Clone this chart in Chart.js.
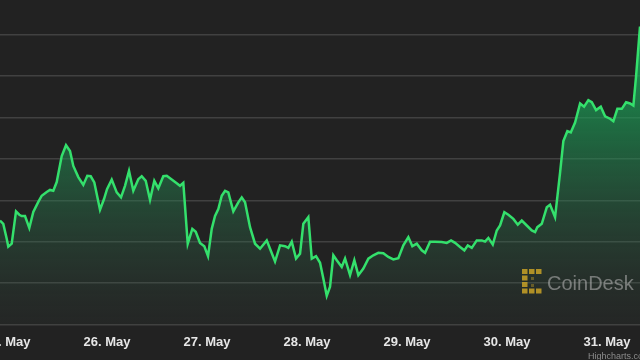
<!DOCTYPE html>
<html>
<head>
<meta charset="utf-8">
<script src="https://cdn.jsdelivr.net/npm/chart.js@4.4.0/dist/chart.umd.min.js"></script>
<style>
    html, body { margin: 0; padding: 0; background: #222222; }
    #wrap { width: 640px; height: 360px; }
</style>
</head>
<body>
<div id="wrap"><canvas id="precioChart" width="640" height="360"></canvas></div>
<script>
// horas desde el 25 de mayo 00:00
const horas = [
    -1.68, -0.89, -0.07, 0.31, 1.13, 2.16, 2.95, 3.53, 4.32, 5.35,
    6.31, 7.51, 8.33, 9.53, 10.32, 11.11, 11.93, 13.13, 14.16, 15.12,
    15.91, 17.11, 18.31, 19.27, 20.09, 20.95, 22.32, 23.28, 24.0, 25.13,
    26.33, 27.36, 28.32, 29.28, 30.31, 31.51, 32.33, 33.29, 34.32, 35.35,
    36.31, 37.51, 38.33, 39.53, 40.73, 41.52, 42.31, 43.37, 44.47, 45.29,
    46.32, 47.35, 48.24, 49.13, 49.92, 50.71, 51.53, 52.32, 53.11, 54.31,
    55.51, 56.33, 57.12, 58.32, 59.52, 60.72, 62.33, 63.12, 64.32, 65.52,
    66.72, 67.51, 68.33, 69.36, 70.32, 71.11, 72.31, 73.13, 74.16, 75.12,
    75.91, 76.73, 77.52, 78.31, 79.13, 80.33, 81.12, 82.32, 83.35, 84.31,
    85.51, 86.71, 87.91, 89.11, 90.31, 91.51, 92.71, 93.91, 95.11, 96.31,
    97.27, 98.33, 99.53, 100.32, 101.52, 102.72, 104.33, 105.53, 106.56, 107.52,
    108.72, 109.75, 110.57, 111.53, 112.73, 113.93, 114.72, 115.51, 116.57, 117.53,
    118.32, 119.35, 120.31, 121.51, 122.57, 123.53, 124.73, 125.93, 126.72, 127.27,
    128.33, 129.53, 130.32, 131.52, 132.72, 133.51, 134.47, 135.29, 136.32, 137.52,
    138.48, 139.51, 140.33, 141.36, 142.49, 143.52, 144.72, 145.51, 146.47, 147.53,
    148.56, 149.52, 150.31, 150.96, 151.9
];
const precios = [
    9551, 9543, 9507, 9488, 9495, 9573, 9565, 9562, 9562, 9533,
    9572, 9596, 9611, 9620, 9625, 9623, 9644, 9707, 9733, 9719,
    9683, 9656, 9637, 9659, 9658, 9643, 9577, 9603, 9627, 9650,
    9619, 9607, 9635, 9671, 9623, 9651, 9658, 9647, 9601, 9647,
    9629, 9658, 9659, 9650, 9641, 9635, 9642, 9495, 9531, 9524,
    9497, 9489, 9465, 9531, 9562, 9579, 9611, 9623, 9619, 9573,
    9595, 9607, 9595, 9535, 9495, 9483, 9503, 9483, 9452, 9491,
    9489, 9485, 9500, 9459, 9471, 9543, 9559, 9459, 9465, 9449,
    9411, 9369, 9391, 9467, 9455, 9439, 9459, 9419, 9455, 9419,
    9435, 9459, 9467, 9473, 9472, 9463, 9457, 9460, 9491, 9511,
    9489, 9495, 9479, 9473, 9500, 9500, 9499, 9497, 9503, 9497,
    9487, 9479, 9491, 9485, 9503, 9503, 9500, 9509, 9493, 9527,
    9539, 9571, 9565, 9555, 9541, 9551, 9539, 9527, 9523, 9535,
    9543, 9583, 9589, 9559, 9667, 9743, 9767, 9764, 9788, 9834,
    9826, 9842, 9837, 9818, 9826, 9803, 9797, 9791, 9821, 9821,
    9837, 9834, 9829, 9900, 10020
];
const dias = ['25. May', '26. May', '27. May', '28. May', '29. May', '30. May', '31. May'];
const lineasY = [9300, 9400, 9500, 9600, 9700, 9800, 9900, 10000];

const puntos = horas.map((h, i) => ({ x: h, y: precios[i] }));

// Marca de agua y credito
const marcaAgua = {
    id: 'marcaAgua',
    afterDraw(chart) {
        const ctx = chart.ctx;
        ctx.save();
        // icono dorado
        ctx.fillStyle = 'rgba(201, 162, 39, 0.85)';
        const celdas = [[0,0],[1,0],[2,0],[0,1],[0,2],[0,3],[1,3],[2,3]];
        celdas.forEach(c => ctx.fillRect(522 + c[0] * 7, 269 + c[1] * 6.5, 5.5, 5));
        ctx.fillStyle = 'rgba(201, 162, 39, 0.4)';
        ctx.fillRect(531, 277, 3, 3);
        ctx.fillRect(531, 284, 3, 3);
        // texto
        ctx.fillStyle = 'rgba(175, 175, 175, 0.6)';
        ctx.font = '20px "Liberation Sans", Arial, sans-serif';
        ctx.textBaseline = 'alphabetic';
        ctx.fillText('CoinDesk', 547, 290);
        ctx.fillStyle = '#8c8c8c';
        ctx.font = '9px "Liberation Sans", Arial, sans-serif';
        ctx.fillText('Highcharts.com', 588, 359);
        ctx.restore();
    }
};

new Chart(document.getElementById('precioChart'), {
    type: 'line',
    data: {
        datasets: [{
            data: puntos,
            borderColor: '#34e06c',
            borderWidth: 2.5,
            pointRadius: 0,
            tension: 0,
            fill: 'start',
            backgroundColor: function(context) {
                const area = context.chart.chartArea;
                if (!area) return 'rgba(30,180,90,0.5)';
                const g = context.chart.ctx.createLinearGradient(0, area.top, 0, area.bottom);
                g.addColorStop(0, 'rgba(20, 190, 95, 0.95)');
                g.addColorStop(0.45, 'rgba(30, 150, 85, 0.55)');
                g.addColorStop(1, 'rgba(60, 80, 70, 0.1)');
                return g;
            }
        }]
    },
    options: {
        responsive: false,
        animation: false,
        layout: { padding: { left: 0, right: 0, top: 0, bottom: 0 } },
        plugins: {
            legend: { display: false },
            tooltip: { enabled: false }
        },
        scales: {
            x: {
                type: 'linear',
                min: -1.68,
                max: 151.9,
                afterBuildTicks: axis => { axis.ticks = dias.map((d, i) => ({ value: i * 24 })); },
                afterFit: scale => { scale.paddingLeft = 0; scale.paddingRight = 0; },
                grid: { display: false, drawTicks: false },
                border: { display: false },
                ticks: {
                    autoSkip: false,
                    maxRotation: 0,
                    padding: 10,
                    color: '#e6e6e6',
                    font: { family: '"Liberation Sans", Arial, sans-serif', size: 13, weight: 'bold' },
                    callback: value => dias[Math.round(value / 24)]
                }
            },
            y: {
                min: 9300,
                max: 10084,
                afterBuildTicks: axis => { axis.ticks = lineasY.map(v => ({ value: v })); },
                grid: { color: 'rgba(255,255,255,0.14)', lineWidth: 1.5, drawTicks: false },
                border: { display: false },
                ticks: { display: false }
            }
        }
    },
    plugins: [marcaAgua]
});
</script>
</body>
</html>
